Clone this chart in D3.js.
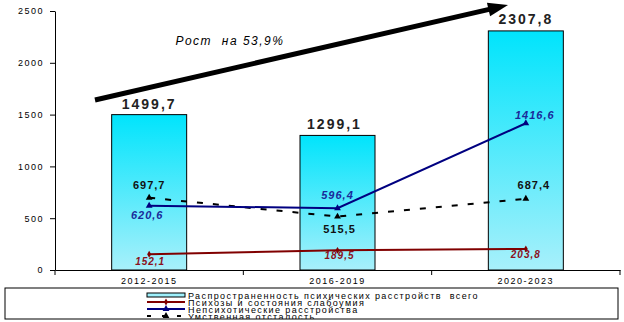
<!DOCTYPE html>
<html>
<head>
<meta charset="utf-8">
<script src="https://cdn.jsdelivr.net/npm/d3@7"></script>
<style>
  body { margin: 0; background: #fff; }
  svg { display: block; font-family: Arial, "Liberation Sans", sans-serif; }
  text { white-space: pre; }
</style>
</head>
<body>
<svg id="chart" width="624" height="322"></svg>
<script>
const periods = ["2012-2015", "2016-2019", "2020-2023"];
const totalValues = [1499.7, 1299.1, 2307.8];
const psychosisValues = [152.1, 189.5, 203.8];
const nonPsychoticValues = [620.6, 596.4, 1416.6];
const retardationValues = [697.7, 515.5, 687.4];
const yTicks = [0, 500, 1000, 1500, 2000, 2500];
const legendLabels = [
  "Распространенность психических расстройств  всего",
  "Психозы и состояния слабоумия",
  "Непсихотические расстройства",
  "Умственная отсталость"
];
const growthLabel = "Рост  на 53,9%";

const fmt = v => v.toFixed(1).replace(".", ",");
const FONT = "Arial, 'Liberation Sans', sans-serif";

const svg = d3.select("#chart");

const x = d3.scaleBand().domain(periods).range([55, 620]).paddingInner(0).paddingOuter(0);
const y = d3.scaleLinear().domain([0, 2500]).range([270, 11]);
const cx = d => x(d) + x.bandwidth() / 2;

// gradient for bars
const defs = svg.append("defs");
const grad = defs.append("linearGradient")
  .attr("id", "barGrad").attr("x1", 0).attr("y1", 0).attr("x2", 0).attr("y2", 1);
grad.append("stop").attr("offset", "0%").attr("stop-color", "#00e4fc");
grad.append("stop").attr("offset", "100%").attr("stop-color", "#a8f0fb");

defs.append("clipPath").attr("id", "legendClip")
  .append("rect").attr("x", 5).attr("y", 288).attr("width", 613).attr("height", 31);

// bars
const barW = 75;
svg.append("g")
  .selectAll("rect")
  .data(periods)
  .join("rect")
  .attr("x", d => cx(d) - barW / 2)
  .attr("y", (d, i) => y(totalValues[i]))
  .attr("width", barW)
  .attr("height", (d, i) => y(0) - y(totalValues[i]))
  .attr("fill", "url(#barGrad)")
  .attr("stroke", "#000")
  .attr("stroke-width", 1);

// axes
const yAxis = svg.append("g")
  .attr("transform", "translate(55,0)")
  .call(d3.axisLeft(y).tickValues(yTicks).tickFormat(d3.format("d")).tickSize(5).tickSizeOuter(0).tickPadding(6));
yAxis.attr("font-family", FONT);
yAxis.select(".domain").attr("stroke", "#000");
yAxis.selectAll("text").attr("font-size", 9).attr("letter-spacing", "1.5px").attr("fill", "#000");

const xAxis = svg.append("g")
  .attr("transform", "translate(0,270)")
  .call(d3.axisBottom(x).tickSize(0).tickPadding(8));
xAxis.attr("font-family", FONT);
xAxis.select(".domain").attr("stroke", "#000");
xAxis.selectAll("text").attr("font-size", 9).attr("letter-spacing", "1.5px").attr("fill", "#000");
// band boundary ticks
svg.append("g")
  .selectAll("line")
  .data(periods.concat(["end"]))
  .join("line")
  .attr("x1", (d, i) => i < 3 ? x(d) : x.range()[1])
  .attr("x2", (d, i) => i < 3 ? x(d) : x.range()[1])
  .attr("y1", 270).attr("y2", 275)
  .attr("stroke", "#000");

// lines
const line = vals => d3.line().x((d, i) => cx(periods[i])).y(d => y(d))(vals);
const tri = d3.symbol().type(d3.symbolTriangle).size(20);
const dia = d3.symbol().type(d3.symbolDiamond).size(14);

svg.append("path").attr("d", line(retardationValues))
  .attr("fill", "none").attr("stroke", "#000").attr("stroke-width", 2)
  .attr("stroke-dasharray", "6,10");
svg.append("path").attr("d", line(psychosisValues))
  .attr("fill", "none").attr("stroke", "#800000").attr("stroke-width", 2);
svg.append("path").attr("d", line(nonPsychoticValues))
  .attr("fill", "none").attr("stroke", "#000080").attr("stroke-width", 2);

const markers = (vals, sym, color) => svg.append("g")
  .selectAll("path")
  .data(vals)
  .join("path")
  .attr("transform", (d, i) => `translate(${cx(periods[i])},${y(d)})`)
  .attr("d", sym)
  .attr("fill", color);
markers(retardationValues, tri, "#000");
markers(psychosisValues, dia, "#800000");
markers(nonPsychoticValues, tri, "#000080");

// value labels
const label = (vals, dxs, dys, opts) => svg.append("g")
  .selectAll("text")
  .data(vals)
  .join("text")
  .attr("x", (d, i) => cx(periods[i]) + dxs[i])
  .attr("y", (d, i) => y(d) + dys[i])
  .attr("text-anchor", "middle")
  .attr("font-size", opts.size)
  .attr("font-weight", "bold")
  .attr("font-style", opts.italic ? "italic" : "normal")
  .attr("letter-spacing", opts.spacing)
  .attr("fill", opts.color)
  .text(d => fmt(d));

label(totalValues, [0, -3, 0], [-6, -6, -7], { size: 14, spacing: "2px", color: "#222" });
label(retardationValues, [0, 2, 8], [-9, 16, -10], { size: 11, spacing: "1px", color: "#111" });
label(nonPsychoticValues, [-2, 0, 9], [13, -9, -4], { size: 11, spacing: "1px", color: "#1a2a9a", italic: true });
label(psychosisValues, [1, 2, 0], [11, 9, 9], { size: 10, spacing: "1px", color: "#8b1020", italic: true });

// growth arrow
const a0 = [95, 100], a1 = [508, 5];
const ang = Math.atan2(a1[1] - a0[1], a1[0] - a0[0]) * 180 / Math.PI;
const len = Math.hypot(a1[0] - a0[0], a1[1] - a0[1]);
const arrow = svg.append("g").attr("transform", `translate(${a0[0]},${a0[1]}) rotate(${ang})`);
arrow.append("line").attr("x1", 0).attr("y1", 0).attr("x2", len - 16).attr("y2", 0)
  .attr("stroke", "#000").attr("stroke-width", 5);
arrow.append("path").attr("d", `M${len},0 L${len - 20},-7 L${len - 20},7 Z`).attr("fill", "#000");

svg.append("text")
  .attr("x", 230).attr("y", 45)
  .attr("text-anchor", "middle")
  .attr("font-size", 12).attr("font-style", "italic")
  .attr("letter-spacing", "1.5px")
  .text(growthLabel);

// legend
svg.append("rect").attr("x", 5).attr("y", 288).attr("width", 613).attr("height", 31)
  .attr("fill", "#fff").attr("stroke", "#000");
const lg = svg.append("g").attr("clip-path", "url(#legendClip)");
const rowY = [295, 302, 309, 316];
const lx0 = 147, lx1 = 185;
lg.append("rect").attr("x", lx0).attr("y", rowY[0] - 2).attr("width", lx1 - lx0).attr("height", 4)
  .attr("fill", "#9ef0fb").attr("stroke", "#000").attr("stroke-width", 1);
lg.append("line").attr("x1", lx0).attr("x2", lx1).attr("y1", rowY[1]).attr("y2", rowY[1])
  .attr("stroke", "#800000").attr("stroke-width", 2);
lg.append("path").attr("transform", `translate(${(lx0 + lx1) / 2},${rowY[1]})`).attr("d", dia).attr("fill", "#800000");
lg.append("line").attr("x1", lx0).attr("x2", lx1).attr("y1", rowY[2]).attr("y2", rowY[2])
  .attr("stroke", "#000080").attr("stroke-width", 2);
lg.append("path").attr("transform", `translate(${(lx0 + lx1) / 2},${rowY[2]})`).attr("d", tri).attr("fill", "#000080");
lg.append("line").attr("x1", lx0).attr("x2", lx1).attr("y1", rowY[3]).attr("y2", rowY[3])
  .attr("stroke", "#000").attr("stroke-width", 2).attr("stroke-dasharray", "4,11");
lg.append("path").attr("transform", `translate(${(lx0 + lx1) / 2},${rowY[3]})`).attr("d", tri).attr("fill", "#000");
lg.selectAll("text.lt")
  .data(legendLabels)
  .join("text")
  .attr("class", "lt")
  .attr("x", 188)
  .attr("y", (d, i) => rowY[i] + 3.5)
  .attr("font-size", 9)
  .attr("letter-spacing", "1.4px")
  .text(d => d);
</script>
</body>
</html>
